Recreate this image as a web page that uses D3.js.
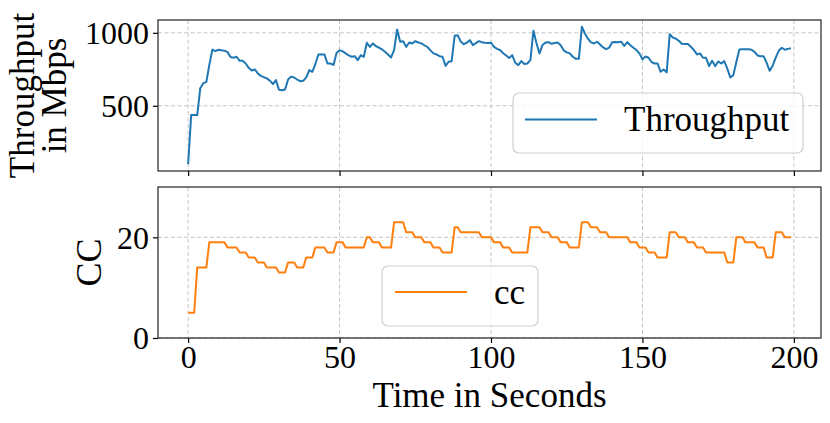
<!DOCTYPE html>
<html>
<head>
<meta charset="utf-8">
<script src="https://cdn.jsdelivr.net/npm/d3@7"></script>
<style>
  body { margin: 0; background: #fff; }
  svg text { font-family: "Liberation Serif", "Times New Roman", serif; fill: #000; }
</style>
</head>
<body>
<svg id="chart" width="830" height="423"></svg>
<script>
// throughput (Mbps), one sample per second, t = 0..199
var throughput = [
  100, 436, 436, 436, 620, 655, 662, 780, 885, 875,
  884, 880, 878, 868, 835, 829, 836, 808, 808, 790,
  760, 742, 749, 722, 705, 696, 688, 672, 649, 676,
  610, 606, 612, 680, 700, 694, 680, 669, 671, 695,
  745, 733, 786, 852, 852, 852, 790, 790, 780, 862,
  880, 874, 859, 845, 836, 840, 813, 847, 836, 932,
  904, 927, 909, 898, 886, 870, 852, 831, 882, 1023,
  939, 943, 904, 934, 927, 943, 934, 928, 915, 903,
  880, 859, 852, 840, 836, 774, 802, 806, 980, 984,
  940, 922, 932, 950, 916, 930, 943, 936, 932, 930,
  932, 904, 890, 882, 860, 845, 828, 847, 795, 779,
  806, 786, 790, 813, 1014, 930, 859, 916, 934, 936,
  925, 930, 934, 915, 880, 866, 859, 836, 822, 822,
  1041, 996, 960, 935, 927, 939, 920, 900, 888, 898,
  935, 938, 936, 939, 911, 936, 915, 898, 882, 859,
  818, 838, 829, 800, 790, 790, 733, 749, 729, 991,
  968, 960, 946, 925, 923, 923, 904, 882, 852, 859,
  829, 829, 772, 808, 772, 804, 790, 806, 756, 694,
  710, 800, 886, 888, 888, 888, 884, 870, 845, 840,
  840, 795, 740, 775, 830, 877, 898, 884, 890, 894
];

// concurrency, same time base
var cc = [
  5, 5, 5, 14, 14, 14, 14, 19, 19, 19,
  19, 19, 19, 18, 18, 18, 18, 17, 17, 17,
  16, 16, 16, 15, 15, 15, 14, 14, 14, 14,
  13, 13, 13, 15, 15, 15, 14, 14, 14, 16,
  16, 16, 18, 18, 18, 18, 17, 17, 17, 19,
  19, 19, 18, 18, 18, 18, 18, 18, 18, 20,
  20, 19, 19, 19, 18, 18, 18, 18, 23, 23,
  23, 23, 21, 21, 21, 20, 20, 20, 19, 19,
  19, 18, 18, 18, 17, 17, 17, 17, 22, 22,
  21, 21, 21, 21, 21, 21, 21, 20, 20, 20,
  20, 19, 19, 19, 18, 18, 18, 17, 17, 17,
  17, 17, 17, 22, 22, 22, 22, 21, 21, 21,
  20, 20, 20, 19, 19, 19, 18, 18, 18, 18,
  23, 23, 23, 22, 22, 22, 21, 21, 21, 20,
  20, 20, 20, 20, 20, 20, 19, 19, 19, 18,
  18, 18, 17, 17, 17, 16, 16, 16, 16, 21,
  21, 21, 20, 20, 20, 19, 19, 19, 18, 18,
  18, 17, 17, 17, 17, 17, 17, 17, 15, 15,
  15, 20, 20, 20, 19, 19, 19, 19, 18, 18,
  18, 16, 16, 16, 21, 21, 21, 20, 20, 20
];

var xTicks = [0, 50, 100, 150, 200];
var tpTicks = [500, 1000];
var ccTicks = [0, 20];

var svg = d3.select("#chart");
var left = 158, right = 821;

// matplotlib style 5% margins
var n = throughput.length;
var xPad = (n - 1) * 0.05;
var x = d3.scaleLinear().domain([-xPad, n - 1 + xPad]).range([left, right]);

var tpMin = d3.min(throughput), tpMax = d3.max(throughput);
var tpPad = (tpMax - tpMin) * 0.05;
var yTop = d3.scaleLinear().domain([tpMin - tpPad, tpMax + tpPad]).range([171, 20]);
var yBot = d3.scaleLinear().domain([0, 30]).range([338, 187]);

function panel(y, top, bottom, yticks, showXLabels) {
  var g = svg.append("g");

  // grid
  g.selectAll(".vg").data(xTicks).enter().append("line")
      .attr("x1", d => x(d)).attr("x2", d => x(d))
      .attr("y1", top).attr("y2", bottom)
      .attr("stroke", "#c4c4c4").attr("stroke-width", 1)
      .attr("stroke-dasharray", "4,2.5");
  g.selectAll(".hg").data(yticks).enter().append("line")
      .attr("x1", left).attr("x2", right)
      .attr("y1", d => y(d)).attr("y2", d => y(d))
      .attr("stroke", "#c4c4c4").attr("stroke-width", 1)
      .attr("stroke-dasharray", "4,2.5");

  var xAxis = d3.axisBottom(x).tickValues(xTicks).tickSizeInner(5).tickSizeOuter(0)
      .tickPadding(3).tickFormat(d3.format("d"));
  if (!showXLabels) xAxis.tickFormat("");
  var xa = g.append("g").attr("transform", "translate(0," + bottom + ")").call(xAxis);
  var ya = g.append("g").attr("transform", "translate(" + left + ",0)")
      .call(d3.axisLeft(y).tickValues(yticks).tickSizeInner(5).tickSizeOuter(0)
        .tickPadding(4).tickFormat(d3.format("d")));
  [xa, ya].forEach(function(a) {
    a.select(".domain").remove();
    a.selectAll(".tick line").attr("stroke", "#000").attr("stroke-width", 1.2);
    a.selectAll(".tick text").style("font-size", "32px").attr("fill", "#000");
  });
  xa.selectAll(".tick text").attr("dy", "0.68em");
  ya.selectAll(".tick text").attr("dy", "0.34em");

  // frame
  g.append("rect")
      .attr("x", left).attr("y", top)
      .attr("width", right - left).attr("height", bottom - top)
      .attr("fill", "none").attr("stroke", "#222").attr("stroke-width", 1.2);
  return g;
}

var gTop = panel(yTop, 20, 171, tpTicks, false);
var gBot = panel(yBot, 187, 338, ccTicks, true);

var lineTop = d3.line().x((d, i) => x(i)).y(d => yTop(d));
var lineBot = d3.line().x((d, i) => x(i)).y(d => yBot(d));

gTop.append("path").datum(throughput)
    .attr("d", lineTop).attr("fill", "none")
    .attr("stroke", "#1f77b4").attr("stroke-width", 2).attr("stroke-linejoin", "round");
gBot.append("path").datum(cc)
    .attr("d", lineBot).attr("fill", "none")
    .attr("stroke", "#ff7f0e").attr("stroke-width", 2).attr("stroke-linejoin", "round");

// legends
function legend(bx, by, bw, bh, color, label, lx1, lx2, ly, tx, ty) {
  svg.append("rect")
      .attr("x", bx).attr("y", by).attr("width", bw).attr("height", bh)
      .attr("rx", 6).attr("ry", 6)
      .attr("fill", "#fff").attr("fill-opacity", 0.8)
      .attr("stroke", "#d0d0d0").attr("stroke-width", 1.2);
  svg.append("line")
      .attr("x1", lx1).attr("x2", lx2).attr("y1", ly).attr("y2", ly)
      .attr("stroke", color).attr("stroke-width", 2);
  svg.append("text").attr("x", tx).attr("y", ty)
      .style("font-size", "35px").text(label);
}
legend(513, 93, 290, 60, "#1f77b4", "Throughput", 525, 597, 119.5, 624, 131);
legend(382, 266, 156, 60, "#ff7f0e", "cc", 395, 467, 292, 494, 304);

// axis labels
svg.append("text")
    .attr("transform", "translate(34," + ((20 + 171) / 2) + ") rotate(-90)")
    .attr("text-anchor", "middle").style("font-size", "35px")
    .text("Throughput");
svg.append("text")
    .attr("transform", "translate(66," + ((20 + 171) / 2) + ") rotate(-90)")
    .attr("text-anchor", "middle").style("font-size", "35px")
    .text("in Mbps");
svg.append("text")
    .attr("transform", "translate(101," + ((187 + 338) / 2) + ") rotate(-90)")
    .attr("text-anchor", "middle").style("font-size", "36px")
    .text("CC");
svg.append("text")
    .attr("x", (left + right) / 2).attr("y", 407)
    .attr("text-anchor", "middle").style("font-size", "35px")
    .text("Time in Seconds");
</script>
</body>
</html>
